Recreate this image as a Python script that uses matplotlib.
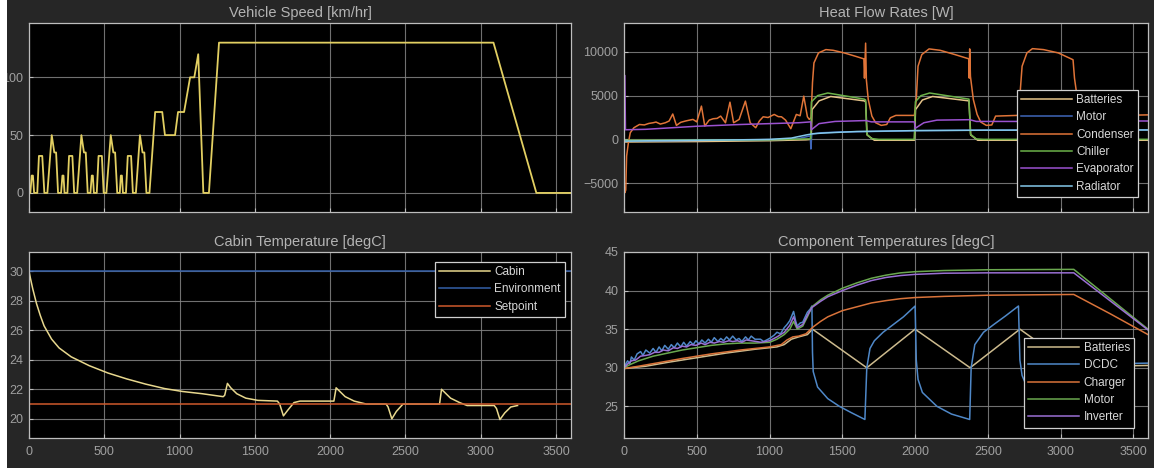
import numpy as np
import matplotlib
matplotlib.use("Agg")
import matplotlib.pyplot as plt
from matplotlib.patches import Rectangle

# ---------------- data ----------------
speed = [(0, 0), (9, 0), (18, 15), (26, 15), (34, 0), (55, 0), (66, 32), (88, 32), (102, 0), (122, 0),
         (151, 50), (168, 35), (180, 35), (193, 0), (213, 0), (222, 15), (229, 15), (236, 0), (255, 0),
         (266, 32), (288, 32), (300, 0), (320, 0), (348, 50), (365, 35), (377, 35), (390, 0), (408, 0),
         (417, 15), (424, 15), (431, 0), (450, 0), (462, 32), (484, 32), (496, 0), (514, 0), (543, 50),
         (560, 35), (572, 35), (586, 0), (603, 0), (610, 15), (617, 15), (624, 0), (644, 0), (656, 32),
         (678, 32), (690, 0), (710, 0), (737, 50), (754, 35), (766, 35), (780, 0), (800, 0), (838, 70),
         (885, 70), (903, 50), (970, 50), (990, 70), (1030, 70), (1070, 100), (1098, 100), (1124, 120),
         (1158, 0), (1195, 0), (1262, 130), (3085, 130), (3370, 0), (3600, 0)]

hf_condenser = [(0, -5000), (5, -6100), (12, -5800), (18, -1900), (30, -400), (43, 760), (68, 1330), (106, 1700),
                (140, 1650), (170, 1820), (200, 1900), (220, 1980), (250, 1750), (284, 1900), (310, 2100),
                (335, 2900), (360, 1600), (390, 1950), (423, 2100), (450, 2200), (474, 2280), (500, 2000),
                (532, 3800), (555, 1520), (585, 2200), (613, 2360), (640, 2400), (664, 2660), (697, 1900),
                (728, 4250), (753, 1900), (791, 2280), (834, 4370), (867, 1900), (905, 1330), (930, 2100),
                (956, 2580), (990, 2500), (1032, 2850), (1060, 2600), (1082, 2580), (1110, 2200), (1146, 1220),
                (1184, 2850), (1210, 2700), (1235, 4940), (1260, 2580), (1273, 2280), (1285, 2500), (1295, 6500),
                (1305, 8740), (1336, 9880), (1387, 10260), (1437, 10180), (1513, 9880), (1590, 9500),
                (1648, 9200), (1652, 7000), (1660, 11000), (1665, 6840), (1678, 4560), (1703, 2660),
                (1729, 1900), (1767, 1600), (1805, 1700), (1830, 2470), (1868, 2740), (1995, 2740),
                (2008, 4560), (2020, 8360), (2046, 9690), (2096, 10340), (2172, 10180), (2274, 9690),
                (2370, 9200), (2372, 7000), (2375, 10340), (2380, 7220), (2400, 4560), (2426, 2850),
                (2451, 1980), (2489, 1600), (2527, 1650), (2553, 2660), (2705, 2740), (2718, 4560),
                (2735, 8360), (2768, 9880), (2806, 10370), (2882, 10260), (2984, 9880), (3085, 9100),
                (3095, 7000), (3120, 4000), (3160, 2000), (3200, 1600), (3250, 1700), (3280, 2700),
                (3600, 2800)]

hf_evaporator = [(0, 7300), (6, 7300), (10, 1100), (150, 1150), (300, 1300), (500, 1500), (800, 1700),
                 (1000, 1800), (1200, 1900), (1283, 2000), (1287, 1100), (1340, 1800), (1450, 2050),
                 (1660, 2150), (1700, 2000), (1995, 2000), (2000, 1250), (2060, 1900), (2150, 2200),
                 (2375, 2250), (2420, 2050), (2705, 2050), (2712, 1300), (2770, 1950), (2860, 2150),
                 (3090, 2200), (3150, 2100), (3600, 2100)]

hf_motor = [(0, -150), (300, -150), (600, -100), (900, -50), (1100, 0), (1200, 100), (1280, 400),
            (1284, -1100), (1290, 600), (1350, 750), (1500, 850), (1700, 900), (2000, 1000),
            (2400, 1050), (3600, 1100)]

hf_radiator = [(0, -200), (200, -150), (500, -100), (800, -50), (1000, 0), (1150, 150), (1250, 500),
               (1300, 650), (1400, 750), (1600, 900), (1800, 950), (2000, 1000), (2500, 1050), (3600, 1070)]

hf_chiller = [(0, -100), (1000, -50), (1250, 50), (1283, 50), (1288, 4300), (1330, 5000), (1400, 5300),
              (1650, 4600), (1660, 4500), (1668, 600), (1700, 100), (1750, 0), (1995, 0), (2002, 4300),
              (2040, 5000), (2100, 5300), (2370, 4600), (2380, 600), (2420, 50), (2470, 0), (2705, 0),
              (2712, 4300), (2750, 5000), (2810, 5300), (3085, 4600), (3095, 600), (3130, 50), (3600, 0)]

hf_batteries = [(0, -300), (500, -250), (1000, -150), (1250, -50), (1286, 0), (1292, 3400), (1340, 4400),
                (1420, 4900), (1650, 4400), (1660, 4300), (1670, 500), (1720, -100), (1995, -100),
                (2003, 3400), (2050, 4500), (2120, 4900), (2370, 4400), (2382, 500), (2430, -100),
                (2705, -100), (2714, 3400), (2760, 4500), (2830, 4900), (3085, 4400), (3097, 500),
                (3140, -100), (3600, -100)]

cabin = [(0, 30.0), (10, 29.5), (25, 28.8), (50, 27.8), (75, 27.0), (100, 26.3), (150, 25.4), (200, 24.8),
         (280, 24.2), (400, 23.6), (525, 23.1), (650, 22.7), (775, 22.35), (900, 22.05), (1020, 21.85),
         (1150, 21.7), (1290, 21.5), (1300, 21.6), (1318, 22.4), (1340, 22.1), (1380, 21.7), (1440, 21.4),
         (1520, 21.25), (1650, 21.2), (1665, 21.0), (1690, 20.2), (1720, 20.6), (1760, 21.1), (1800, 21.2),
         (2025, 21.2), (2040, 22.1), (2060, 21.9), (2100, 21.5), (2160, 21.2), (2240, 21.0), (2372, 21.0),
         (2385, 20.8), (2410, 20.0), (2440, 20.5), (2484, 21.0), (2727, 21.0), (2740, 22.0), (2760, 21.8),
         (2800, 21.4), (2860, 21.1), (2910, 20.9), (3090, 20.9), (3105, 20.7), (3128, 19.95), (3160, 20.4),
         (3200, 20.8), (3245, 20.9)]
environment = [(0, 30.0), (3600, 30.0)]
setpoint = [(0, 21.0), (3600, 21.0)]

ct_dcdc = [(0, 30.0), (15, 30.6), (25, 30.9), (40, 30.5), (51, 31.4), (70, 31.0), (90, 31.8), (114, 32.1),
           (130, 31.6), (150, 32.3), (177, 31.9), (200, 32.5), (220, 32.0), (241, 32.7), (260, 32.2),
           (280, 32.9), (304, 32.4), (325, 33.0), (345, 32.6), (367, 33.2), (390, 32.7), (410, 33.3),
           (430, 32.8), (455, 33.4), (475, 33.0), (494, 33.5), (515, 33.1), (535, 33.6), (557, 33.2),
           (580, 33.7), (600, 33.3), (620, 33.9), (645, 33.4), (665, 33.8), (684, 33.5), (705, 34.0),
           (725, 33.6), (747, 34.1), (770, 33.6), (790, 33.8), (810, 33.4), (835, 34.0), (855, 33.6),
           (874, 34.1), (900, 33.7), (937, 33.7), (960, 33.4), (1000, 33.8), (1030, 34.2), (1051, 34.6),
           (1075, 34.4), (1101, 35.2), (1120, 35.6), (1139, 36.1), (1165, 37.3), (1180, 36.0), (1190, 35.4),
           (1210, 35.8), (1228, 35.9), (1245, 36.6), (1260, 37.2), (1279, 37.6), (1291, 38.0), (1295, 32.0),
           (1300, 29.5), (1330, 27.5), (1400, 26.0), (1480, 25.0), (1560, 24.2), (1655, 23.3), (1668, 30.0),
           (1690, 32.5), (1720, 33.5), (1780, 34.6), (1850, 35.6), (1920, 36.6), (2000, 38.0), (2008, 31.0),
           (2020, 28.5), (2050, 26.8), (2150, 25.0), (2250, 24.0), (2375, 23.3), (2385, 30.0), (2410, 33.0),
           (2470, 34.6), (2540, 35.6), (2620, 36.7), (2710, 38.0), (2720, 31.0), (2735, 29.0), (2780, 27.0),
           (2900, 25.0), (3000, 24.0), (3088, 23.5), (3100, 28.0), (3200, 30.0), (3300, 30.5), (3600, 30.6)]

ct_inverter = [(0, 30.0), (25, 30.5), (51, 30.9), (80, 31.0), (114, 31.5), (150, 31.6), (177, 31.7),
               (210, 32.0), (241, 32.0), (270, 32.3), (304, 32.2), (340, 32.6), (367, 32.5), (400, 32.8),
               (430, 32.7), (460, 33.0), (494, 32.9), (530, 33.2), (557, 33.0), (590, 33.3), (620, 33.2),
               (655, 33.4), (684, 33.3), (720, 33.5), (747, 33.4), (780, 33.5), (810, 33.3), (840, 33.6),
               (874, 33.5), (910, 33.4), (940, 33.3), (1000, 33.5), (1051, 34.0), (1101, 34.6), (1139, 35.5),
               (1165, 36.6), (1190, 35.2), (1228, 35.6), (1260, 36.8), (1291, 37.8), (1350, 38.6),
               (1400, 39.2), (1500, 40.0), (1600, 40.7), (1700, 41.3), (1800, 41.7), (1900, 41.95),
               (2000, 42.1), (2200, 42.25), (2500, 42.3), (3090, 42.3), (3600, 34.9)]

ct_motor = [(0, 30.0), (40, 30.4), (100, 30.9), (200, 31.5), (300, 31.9), (400, 32.3), (500, 32.6),
            (600, 32.9), (700, 33.1), (800, 33.2), (900, 33.2), (1000, 33.3), (1051, 33.7), (1101, 34.3),
            (1139, 35.0), (1165, 36.0), (1190, 35.0), (1228, 35.4), (1260, 36.6), (1291, 37.9), (1350, 38.8),
            (1400, 39.4), (1500, 40.3), (1600, 41.0), (1700, 41.6), (1800, 42.0), (1900, 42.3), (2000, 42.45),
            (2200, 42.6), (2500, 42.7), (3090, 42.75), (3600, 35.0)]

ct_charger = [(0, 29.9), (100, 30.2), (250, 30.7), (400, 31.2), (600, 31.8), (800, 32.3), (1000, 32.7),
              (1080, 33.0), (1120, 33.6), (1160, 34.0), (1200, 34.1), (1250, 34.4), (1300, 35.3), (1350, 36.0),
              (1400, 36.6), (1500, 37.4), (1600, 37.9), (1700, 38.4), (1800, 38.7), (1900, 38.95),
              (2000, 39.1), (2200, 39.25), (2500, 39.4), (3090, 39.5), (3340, 37.0), (3600, 34.3)]

ct_batteries = [(0, 29.9), (150, 30.2), (300, 30.7), (500, 31.3), (700, 31.9), (900, 32.4), (1050, 32.7),
                (1100, 33.0), (1150, 33.7), (1200, 34.0), (1260, 34.3), (1295, 35.0), (1668, 30.0),
                (2000, 35.0), (2378, 30.0), (2720, 35.0), (3092, 30.0), (3300, 30.2), (3600, 30.3)]

x_ticks = [0, 500, 1000, 1500, 2000, 2500, 3000, 3500]

# ---------------- figure ----------------
plt.rcParams['font.family'] = ['Liberation Sans', 'DejaVu Sans']

W, H = 1154, 468
fig = plt.figure(figsize=(W / 100, H / 100), dpi=100, facecolor='#262626')
fig.patches.append(Rectangle((0, 0), 7 / W, 1, transform=fig.transFigure,
                             facecolor='white', edgecolor='none', zorder=0))


def px_axes(x0, y0, x1, y1):
    return fig.add_axes([x0 / W, 1 - y1 / H, (x1 - x0) / W, (y1 - y0) / H])


def style(ax, title, ylim, yticks, show_x):
    ax.set_facecolor('black')
    ax.set_xlim(0, 3600)
    ax.set_ylim(*ylim)
    ax.set_xticks(x_ticks)
    ax.set_yticks(yticks)
    ax.grid(True, color='#858585', linewidth=0.8, alpha=0.85)
    ax.set_axisbelow(True)
    for s in ax.spines.values():
        s.set_color('#bdbdbd')
        s.set_linewidth(0.9)
    ax.tick_params(direction='in', length=3, colors='#bdbdbd', labelcolor='#a0a0a0',
                   labelsize=9, pad=4)
    ax.tick_params(axis='x', pad=6)
    if not show_x:
        ax.set_xticklabels([])
    ax.set_title(title, color='#b4b4b4', fontsize=10.5, pad=4)


def series(ax, data, color, label=None, lw=1.1):
    arr = np.array(data, dtype=float)
    ax.plot(arr[:, 0], arr[:, 1], color=color, lw=lw, label=label)


def legend(ax, x, y):
    lg = ax.legend(loc='upper right', bbox_to_anchor=(x, y), borderaxespad=0,
                   fancybox=False, framealpha=1, facecolor='black', edgecolor='#cfcfcf',
                   fontsize=8.5, handlelength=4.3, handletextpad=0.4, labelspacing=0.45,
                   borderpad=0.35)
    lg.get_frame().set_linewidth(0.9)
    for t in lg.get_texts():
        t.set_color('#d8d8d8')


# Vehicle speed
ax1 = px_axes(29, 23, 571, 212)
style(ax1, 'Vehicle Speed [km/hr]', (-16.5, 147), [0, 50, 100], False)
series(ax1, speed, '#e2cf62', lw=1.3)

# Heat flow rates
ax2 = px_axes(624, 23, 1148, 212)
style(ax2, 'Heat Flow Rates [W]', (-8300, 13300), [-5000, 0, 5000, 10000], False)
series(ax2, hf_batteries, '#e6c48a', 'Batteries')
series(ax2, hf_motor, '#3f66b8', 'Motor')
series(ax2, hf_condenser, '#e07438', 'Condenser')
series(ax2, hf_chiller, '#6cb24a', 'Chiller')
series(ax2, hf_evaporator, '#9b52d0', 'Evaporator')
series(ax2, hf_radiator, '#84c8ea', 'Radiator')
legend(ax2, (1138 - 624) / 524, 1 - (90 - 23) / 189)

# Cabin temperature
ax3 = px_axes(29, 252, 571, 438)
style(ax3, 'Cabin Temperature [degC]', (18.7, 31.3), [20, 22, 24, 26, 28, 30], True)
series(ax3, cabin, '#e8d88e', 'Cabin')
series(ax3, environment, '#3460a8', 'Environment')
series(ax3, setpoint, '#cf5a2c', 'Setpoint')
legend(ax3, (565 - 29) / 542, 1 - (262 - 252) / 186)

# Component temperatures
ax4 = px_axes(624, 252, 1148, 438)
style(ax4, 'Component Temperatures [degC]', (20.9, 45), [25, 30, 35, 40, 45], True)
series(ax4, ct_batteries, '#cdbb8e', 'Batteries')
series(ax4, ct_dcdc, '#4f88c8', 'DCDC')
series(ax4, ct_charger, '#d9733a', 'Charger')
series(ax4, ct_motor, '#6aa84f', 'Motor')
series(ax4, ct_inverter, '#9a70d4', 'Inverter')
legend(ax4, (1134 - 624) / 524, 1 - (338 - 252) / 186)

fig.savefig('out.png', dpi=100, facecolor=fig.get_facecolor())
